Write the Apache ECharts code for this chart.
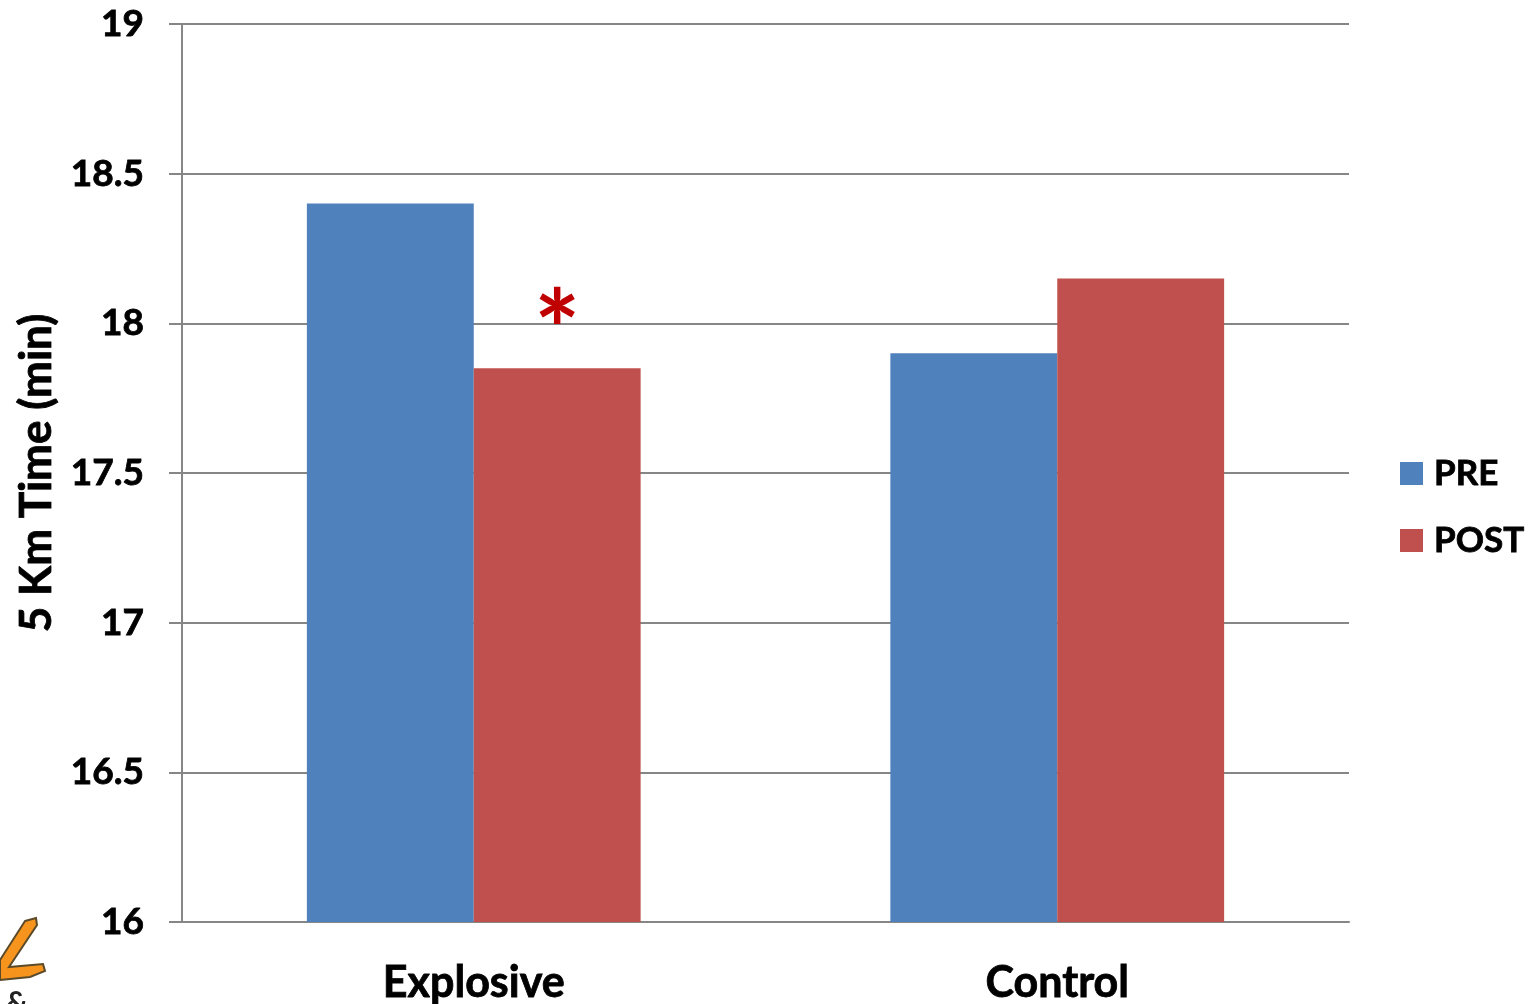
<!DOCTYPE html>
<html>
<head>
<meta charset="utf-8">
<style>html,body{margin:0;padding:0;background:#fff}#c{width:1529px;height:1004px}</style>
<script src="https://cdn.jsdelivr.net/npm/echarts@6/dist/echarts.min.js"></script>
</head>
<body>
<div id="c"></div>
<script>
const categories = ['Explosive', 'Control'];
const preValues = [18.4, 17.9];
const postValues = [17.85, 18.15];
const yTicks = { min: 16, max: 19, interval: 0.5 };
const FONT = 'Lato';
const GREY = '#868686';
const heavy = { fontFamily: FONT, fontWeight: 'bold', color: '#000', textBorderColor: '#000', textBorderWidth: 0.8 };
const chart = echarts.init(document.getElementById('c'), null, { renderer: 'canvas' });
chart.setOption({
  animation: false,
  backgroundColor: '#fff',
  grid: { left: 182, right: 180, top: 24, bottom: 82, outerBoundsMode: 'none' },
  legend: {
    left: 1395, top: 446, orient: 'vertical', icon: 'rect',
    itemWidth: 23, itemHeight: 23, itemGap: 22,
    textStyle: { ...heavy, fontSize: 35, padding: [0, 0, 0, 6], lineHeight: 45 },
    data: ['PRE', 'POST']
  },
  xAxis: {
    type: 'category', data: categories,
    axisTick: { show: false },
    axisLine: { lineStyle: { color: GREY, width: 2 } },
    axisLabel: { ...heavy, fontSize: 43, margin: 40 }
  },
  yAxis: {
    type: 'value', min: yTicks.min, max: yTicks.max, interval: yTicks.interval,
    name: '5 Km Time (min)', nameLocation: 'middle', nameGap: 123, nameRotate: 90,
    nameTextStyle: { ...heavy, fontSize: 44 },
    axisLine: { show: true, lineStyle: { color: GREY, width: 2 } },
    axisTick: { show: true, length: 13, lineStyle: { color: GREY, width: 2 } },
    splitLine: { show: true, lineStyle: { color: GREY, width: 2 } },
    axisLabel: { ...heavy, fontSize: 37, margin: 38, formatter: v => String(v) }
  },
  series: [
    { name: 'PRE', type: 'bar', data: preValues, barGap: 0, barCategoryGap: '42.8%', itemStyle: { color: '#4F81BD' } },
    { name: 'POST', type: 'bar', data: postValues.map((v, i) => i === 0 ? {
        value: v,
        label: { show: true, position: 'top', formatter: '*', distance: -21, color: '#C00000',
                 fontFamily: FONT, fontWeight: 'bold', fontSize: 109 }
      } : v), itemStyle: { color: '#C0504D' } }
  ],
  graphic: [
    { type: 'polygon', silent: true, shape: { points: [[25,921],[36,918],[37,925],[9,967],[43,964],[45,971],[30,977],[0,980],[0,960]] },
      style: { fill: '#F7941D', stroke: '#5a4a2a', lineWidth: 2 } },
    { type: 'text', silent: true, left: 6, top: 988, style: { text: '&', fontFamily: FONT, fontWeight: 'bold', fontSize: 30, fill: '#222' } }
  ]
});
</script>
</body>
</html>
